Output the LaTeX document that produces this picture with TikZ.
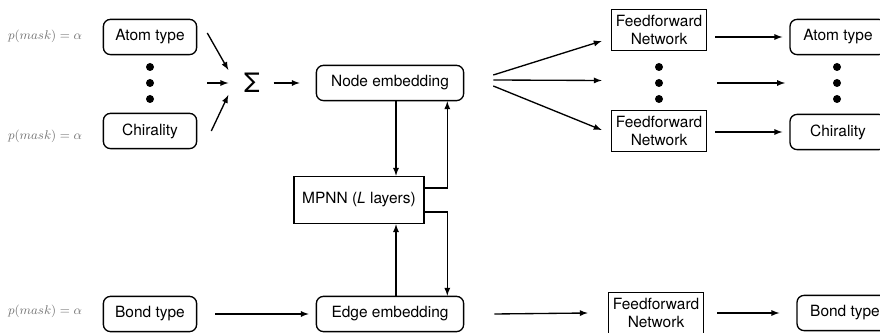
\documentclass[tikz,border=0pt]{standalone}
\usepackage{fontspec}
\setmainfont{TeX Gyre Heros}
\usetikzlibrary{arrows,positioning,calc}
\definecolor{maskgray}{RGB}{115,115,115}

\begin{document}
\begin{tikzpicture}[x=0.025cm,y=-0.025cm,>=latex,line width=0.95pt,
  rbox/.style={rectangle,draw,rounded corners=5pt,minimum width=2.33cm,minimum height=0.88cm,font=\fontsize{11}{13}\selectfont},
  sbox/.style={rectangle,draw,align=center,inner sep=1pt,minimum width=2.38cm,minimum height=1.02cm,font=\fontsize{11}{12.5}\selectfont},
  bullet/.style={circle,fill,inner sep=0pt,minimum size=0.2cm},
  masklbl/.style={text=maskgray,font=\fontsize{9.5}{11}\selectfont}]
  \useasboundingbox (0,0) rectangle (880,333);

  % inputs
  \node[rbox] (atom_in) at (150,37) {Atom type};
  \node[rbox] (chir_in) at (150,131) {Chirality};
  \node[rbox] (bond_in) at (150,314) {Bond type};
  \node[masklbl] (mask1) at (45,36) {$p(mask)=\alpha$};
  \node[masklbl] (mask2) at (45,136) {$p(mask)=\alpha$};
  \node[masklbl] (mask3) at (45,311) {$p(mask)=\alpha$};
  \foreach \y/\n in {67/1,83/2,99/3}
    \node[bullet] (din\n) at (150,\y) {};

  \node[minimum width=1.15cm,font=\fontsize{19}{19}\selectfont] (sigma) at (252,83) {Σ};

  % embeddings and message passing
  \node[rbox,minimum width=3.68cm] (nodeemb) at (390,83) {Node embedding};
  \node[sbox,minimum width=3.25cm,minimum height=1.18cm] (mpnn) at (359,200) {MPNN (\textit{L} layers)};
  \node[rbox,minimum width=3.68cm] (edgeemb) at (390,314) {Edge embedding};

  % prediction heads
  \node[sbox] (ff1) at (659,30) {Feedforward\\Network};
  \node[sbox] (ff2) at (659,131) {Feedforward\\Network};
  \node[sbox] (ff3) at (656,313) {Feedforward\\Network};
  \foreach \y/\n in {67/1,83/2,99/3}
    \node[bullet] (dff\n) at (659,\y) {};

  \node[rbox,minimum width=2.4cm] (atom_out) at (838,37) {Atom type};
  \node[rbox,minimum width=2.4cm] (chir_out) at (838,132) {Chirality};
  \node[rbox,minimum width=2.4cm] (bond_out) at (845,313) {Bond type};
  \foreach \y/\n in {67/1,83/2,99/3}
    \node[bullet] (dout\n) at (837,\y) {};

  % sum
  \draw[->] ($(atom_in.east)+(10,-4)$) -- ($(sigma.west)+(0,-13)$);
  \draw[->] ($(sigma.west)+(-21,0)$) -- (sigma.west);
  \draw[->] ($(chir_in.east)+(14,0)$) -- ($(sigma.west)+(0,12)$);
  \draw[->,shorten >=0.4cm] ($(sigma.east)+(-2,0)$) -- (nodeemb.west);

  % MPNN loop
  \draw[->] ($(nodeemb.south)+(6,0)$) coordinate (nd) -- (nd |- mpnn.north);
  \draw[->] ($(mpnn.east)+(0,-12)$) -| ($(nodeemb.south east)+(-17,0)$);
  \draw[->] ($(mpnn.east)+(0,12)$) -| ($(edgeemb.north east)+(-17,0)$);
  \draw[->] ($(edgeemb.north)+(6,0)$) coordinate (ed) -- (ed |- mpnn.south);

  % bond path
  \draw[->] ($(bond_in.east)+(18,0)$) -- ($(edgeemb.west)+(-7,0)$);
  \draw[->] ($(edgeemb.east)+(30,0)$) -- ($(ff3.west)+(-20,0)$);
  \draw[->] ($(ff3.east)+(13,0)$) -- ($(bond_out.west)+(-17,0)$);

  % fan out to heads
  \draw[->] ($(nodeemb.east)+(29,-8)$) -- ($(ff1.west)+(-9,11)$);
  \draw[->] ($(nodeemb.east)+(29,-3)$) -- ($(ff1.west)!.5!(ff2.west)+(-9,0)$);
  \draw[->] ($(nodeemb.east)+(29,3)$) -- ($(ff2.west)+(-9,-1)$);

  \draw[->] ($(ff1.east |- atom_out.west)+(8,0)$) -- ($(atom_out.west)+(-7,0)$);
  \draw[->] ($(dff2)+(58,0)$) -- ($(dout2)+(-52,0)$);
  \draw[->] ($(ff2.east |- chir_out.west)+(8,0)$) -- ($(chir_out.west)+(-7,0)$);

\end{tikzpicture}
\end{document}
